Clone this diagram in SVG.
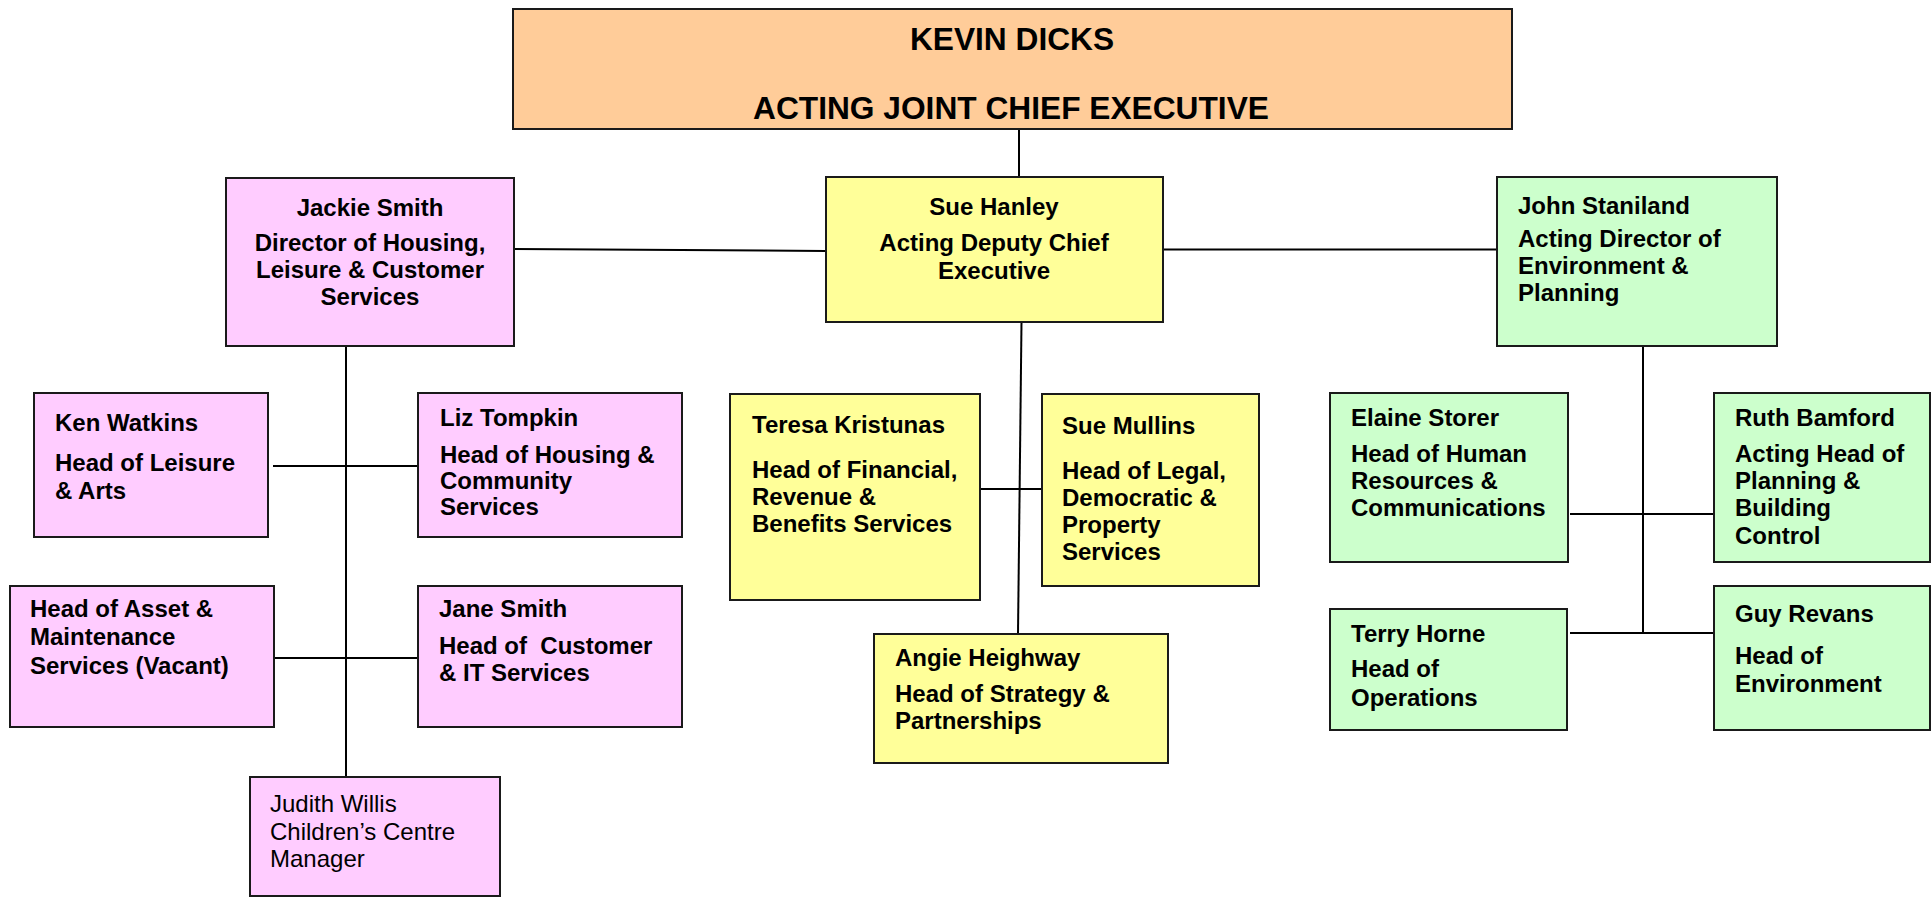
<svg xmlns="http://www.w3.org/2000/svg" width="1932" height="898" viewBox="0 0 1932 898">
<style>
.box{stroke:#1a1a1a;stroke-width:2}
.pink{fill:#FFCCFF}.yellow{fill:#FFFF99}.green{fill:#CCFFCC}.orange{fill:#FFCC99}
text{font-family:"Liberation Sans",Arial,Helvetica,sans-serif;font-size:24px;font-weight:bold;fill:#000}
.reg{font-weight:normal}
.title{font-size:31.7px}
.c{text-anchor:middle}
.conn line{stroke:#000;stroke-width:2}
</style>
<rect width="1932" height="898" fill="#fff"/>
<g class="conn" id="connectors">
<line x1="1019" y1="129" x2="1019" y2="177"/>
<line x1="514" y1="249" x2="826" y2="251"/>
<line x1="1163" y1="249.5" x2="1497" y2="249.5"/>
<line x1="346" y1="346" x2="346" y2="777"/>
<line x1="273" y1="466" x2="418" y2="466"/>
<line x1="274" y1="658" x2="418" y2="658"/>
<line x1="1021.5" y1="322" x2="1018" y2="634"/>
<line x1="970" y1="489" x2="1042" y2="489"/>
<line x1="1643" y1="346" x2="1643" y2="633"/>
<line x1="1570" y1="514" x2="1714" y2="514"/>
<line x1="1570" y1="633" x2="1714" y2="633"/>
</g>
<g id="kevin">
<rect class="box orange" x="513" y="9" width="999" height="120"/>
<text class="title c" x="1012" y="50">KEVIN DICKS</text>
<text class="title c" x="1011" y="119">ACTING JOINT CHIEF EXECUTIVE</text>
</g>
<g id="jackie">
<rect class="box pink" x="226" y="178" width="288" height="168"/>
<text class="c" x="370" y="216">Jackie Smith</text>
<text class="c" x="370" y="251">Director of Housing,</text>
<text class="c" x="370" y="278">Leisure &amp; Customer</text>
<text class="c" x="370" y="305">Services</text>
</g>
<g id="sue-hanley">
<rect class="box yellow" x="826" y="177" width="337" height="145"/>
<text class="c" x="994" y="215">Sue Hanley</text>
<text class="c" x="994" y="251">Acting Deputy Chief</text>
<text class="c" x="994" y="279">Executive</text>
</g>
<g id="john">
<rect class="box green" x="1497" y="177" width="280" height="169"/>
<text x="1518" y="214">John Staniland</text>
<text x="1518" y="247">Acting Director of</text>
<text x="1518" y="274">Environment &amp;</text>
<text x="1518" y="301">Planning</text>
</g>
<g id="ken">
<rect class="box pink" x="34" y="393" width="234" height="144"/>
<text x="55" y="431">Ken Watkins</text>
<text x="55" y="471">Head of Leisure</text>
<text x="55" y="499">&amp; Arts</text>
</g>
<g id="liz">
<rect class="box pink" x="418" y="393" width="264" height="144"/>
<text x="440" y="426">Liz Tompkin</text>
<text x="440" y="463">Head of Housing &amp;</text>
<text x="440" y="489">Community</text>
<text x="440" y="515">Services</text>
</g>
<g id="asset">
<rect class="box pink" x="10" y="586" width="264" height="141"/>
<text x="30" y="617">Head of Asset &amp;</text>
<text x="30" y="645">Maintenance</text>
<text x="30" y="674">Services (Vacant)</text>
</g>
<g id="jane">
<rect class="box pink" x="418" y="586" width="264" height="141"/>
<text x="439" y="617">Jane Smith</text>
<text x="439" y="654" xml:space="preserve">Head of  Customer</text>
<text x="439" y="681">&amp; IT Services</text>
</g>
<g id="judith">
<rect class="box pink" x="250" y="777" width="250" height="119"/>
<text class="reg" x="270" y="812">Judith Willis</text>
<text class="reg" x="270" y="840">Children’s Centre</text>
<text class="reg" x="270" y="867">Manager</text>
</g>
<g id="teresa">
<rect class="box yellow" x="730" y="394" width="250" height="206"/>
<text x="752" y="433">Teresa Kristunas</text>
<text x="752" y="478">Head of Financial,</text>
<text x="752" y="505">Revenue &amp;</text>
<text x="752" y="532">Benefits Services</text>
</g>
<g id="sue-mullins">
<rect class="box yellow" x="1042" y="394" width="217" height="192"/>
<text x="1062" y="434">Sue Mullins</text>
<text x="1062" y="479">Head of Legal,</text>
<text x="1062" y="506">Democratic &amp;</text>
<text x="1062" y="533">Property</text>
<text x="1062" y="560">Services</text>
</g>
<g id="angie">
<rect class="box yellow" x="874" y="634" width="294" height="129"/>
<text x="895" y="666">Angie Heighway</text>
<text x="895" y="702">Head of Strategy &amp;</text>
<text x="895" y="729">Partnerships</text>
</g>
<g id="elaine">
<rect class="box green" x="1330" y="393" width="238" height="169"/>
<text x="1351" y="426">Elaine Storer</text>
<text x="1351" y="462">Head of Human</text>
<text x="1351" y="489">Resources &amp;</text>
<text x="1351" y="516">Communications</text>
</g>
<g id="ruth">
<rect class="box green" x="1714" y="393" width="216" height="169"/>
<text x="1735" y="426">Ruth Bamford</text>
<text x="1735" y="462">Acting Head of</text>
<text x="1735" y="489">Planning &amp;</text>
<text x="1735" y="516">Building</text>
<text x="1735" y="544">Control</text>
</g>
<g id="terry">
<rect class="box green" x="1330" y="609" width="237" height="121"/>
<text x="1351" y="642">Terry Horne</text>
<text x="1351" y="677">Head of</text>
<text x="1351" y="706">Operations</text>
</g>
<g id="guy">
<rect class="box green" x="1714" y="586" width="216" height="144"/>
<text x="1735" y="622">Guy Revans</text>
<text x="1735" y="664">Head of</text>
<text x="1735" y="692">Environment</text>
</g>
</svg>
